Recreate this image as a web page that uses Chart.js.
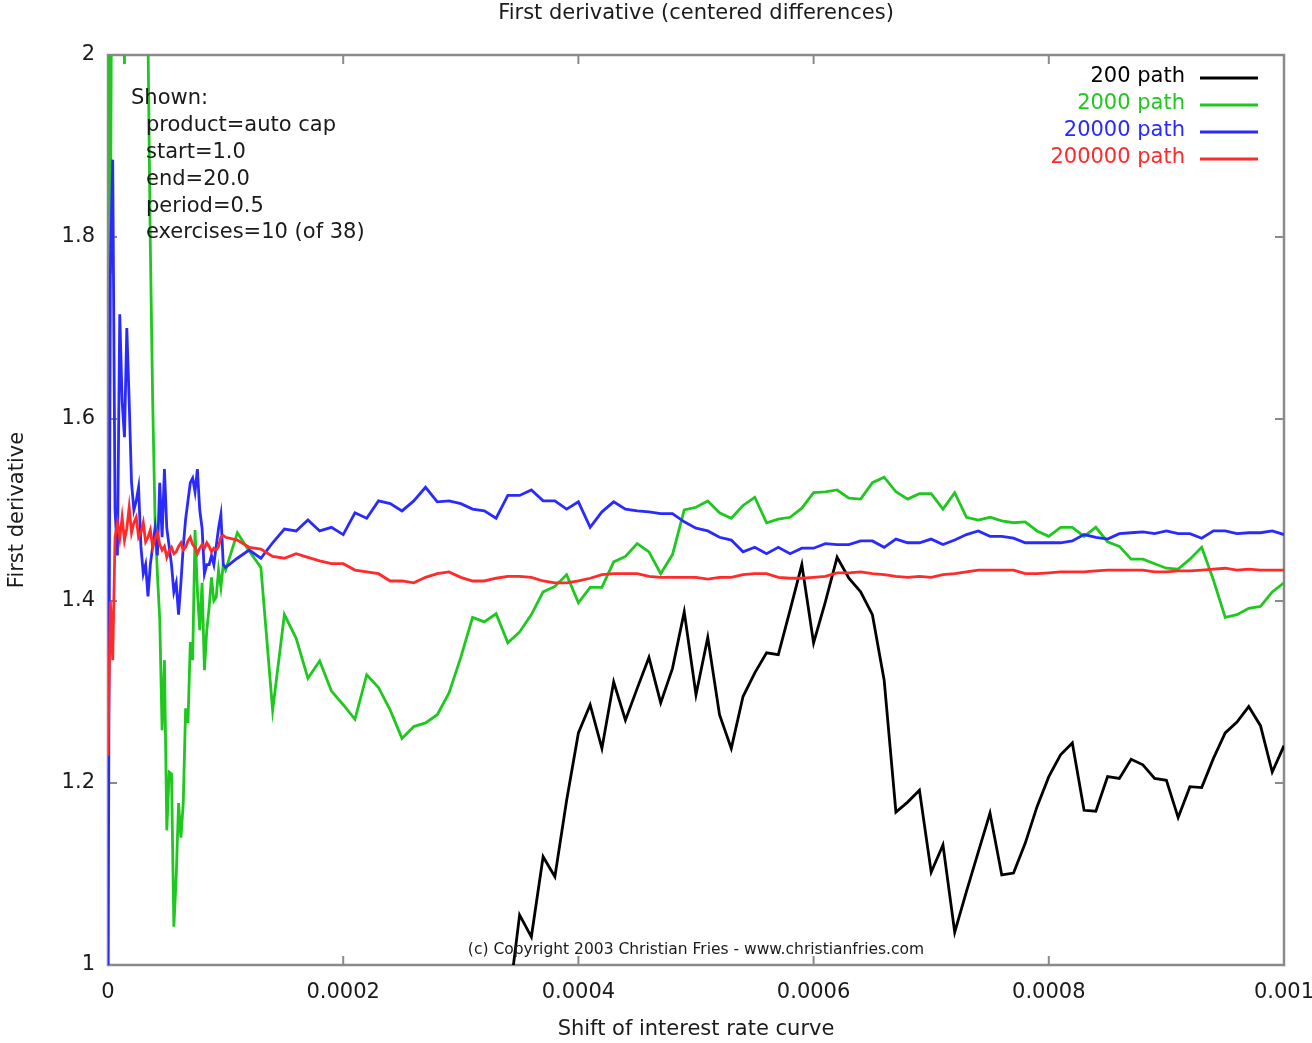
<!DOCTYPE html>
<html>
<head>
<meta charset="utf-8">
<title>First derivative (centered differences)</title>
<script src="https://cdn.jsdelivr.net/npm/chart.js@4.4.1/dist/chart.umd.min.js"></script>
<style>
  body { margin: 0; background: #fff; }
</style>
</head>
<body>
<canvas id="derivChart" width="1312" height="1043"></canvas>
<script>
'use strict';

// series names (legend order)
const seriesNames = ['200 path', '2000 path', '20000 path', '200000 path'];
const seriesColors = ['#000000', '#1fc81f', '#2a2aff', '#ff2a2a'];

const xTickLabels = ['0', '0.0002', '0.0004', '0.0006', '0.0008', '0.001'];
const yTickLabels = ['1', '1.2', '1.4', '1.6', '1.8', '2'];

const infoLines = ['Shown:', 'product=auto cap', 'start=1.0', 'end=20.0', 'period=0.5', 'exercises=10 (of 38)'];
const copyrightText = '(c) Copyright 2003 Christian Fries - www.christianfries.com';

// shift grid: 50 fine steps up to 0.0001, then steps of 0.00001 up to 0.001
const fineShift = [];
for (let j = 0; j < 50; j++) fineShift.push(Number((j * 0.000002).toFixed(7)));
const coarseShift = [];
for (let k = 0; k <= 90; k++) coarseShift.push(Number((0.0001 + k * 0.00001).toFixed(6)));

// 200 path (below the axis before ~0.00034)
const black_fine = [];
const black_coarse = [
  null, null, null, null, null, null, null, null, null, null,
  null, null, null, null, null, null, null, null, null, null,
  null, null, null, null,
  0.95, 1.055, 1.031, 1.119, 1.097, 1.181, 1.255, 1.286, 1.238, 1.311,
  1.269, 1.304, 1.338, 1.288, 1.326, 1.388, 1.297, 1.360, 1.275, 1.238,
  1.295, 1.321, 1.343, 1.341, 1.390, 1.440, 1.354, 1.399, 1.448, 1.425,
  1.410, 1.385, 1.313, 1.168, 1.179, 1.192, 1.102, 1.132, 1.036, 1.081,
  1.124, 1.167, 1.099, 1.101, 1.134, 1.174, 1.207, 1.231, 1.244, 1.170,
  1.169, 1.207, 1.205, 1.226, 1.220, 1.205, 1.203, 1.162, 1.196, 1.195,
  1.227, 1.255, 1.267, 1.284, 1.263, 1.212, 1.241
];

// 2000 path
const green_fine = [
  2.5, 1.76, 2.4, 2.6, 2.3, 2.2, 2.1, 1.99, 2.2, 2.5,
  2.8, 2.6, 2.4, 2.7, 2.5, 2.3, 2.4, 2.02, 1.79, 1.62,
  1.49, 1.43, 1.38, 1.258, 1.335, 1.148, 1.212, 1.21, 1.042, 1.097,
  1.178, 1.14, 1.178, 1.282, 1.266, 1.355, 1.335, 1.478, 1.412, 1.368,
  1.42, 1.324, 1.368, 1.393, 1.426, 1.40, 1.404, 1.434, 1.415, 1.44
];
const green_coarse = [
  1.434, 1.475, 1.455, 1.437, 1.280, 1.385, 1.359, 1.315, 1.334, 1.301,
  1.286, 1.270, 1.319, 1.305, 1.280, 1.249, 1.262, 1.266, 1.275, 1.299,
  1.338, 1.382, 1.377, 1.386, 1.354, 1.366, 1.385, 1.410, 1.416, 1.429,
  1.398, 1.415, 1.415, 1.443, 1.449, 1.463, 1.454, 1.430, 1.451, 1.500,
  1.503, 1.510, 1.497, 1.491, 1.505, 1.514, 1.486, 1.490, 1.492, 1.502,
  1.519, 1.520, 1.522, 1.513, 1.512, 1.530, 1.536, 1.520, 1.512, 1.518,
  1.518, 1.501, 1.519, 1.492, 1.489, 1.492, 1.488, 1.486, 1.487, 1.477,
  1.471, 1.481, 1.481, 1.471, 1.481, 1.465, 1.460, 1.446, 1.446, 1.441,
  1.436, 1.435, 1.446, 1.459, 1.423, 1.382, 1.385, 1.392, 1.394, 1.410,
  1.420
];

// 20000 path
const blue_fine = [
  0.95, 1.76, 1.885, 1.50, 1.45, 1.715, 1.62, 1.58, 1.70, 1.62,
  1.53, 1.50, 1.51, 1.525, 1.46, 1.43, 1.44, 1.405, 1.44, 1.46,
  1.48, 1.45, 1.53, 1.47, 1.545, 1.48, 1.46, 1.44, 1.41, 1.42,
  1.385, 1.42, 1.46, 1.49, 1.51, 1.53, 1.535, 1.52, 1.545, 1.50,
  1.48, 1.43, 1.44, 1.44, 1.45, 1.44, 1.46, 1.48, 1.495, 1.44
];
const blue_coarse = [
  1.437, 1.447, 1.456, 1.447, 1.464, 1.479, 1.477, 1.489, 1.477, 1.481,
  1.473, 1.497, 1.491, 1.510, 1.507, 1.499, 1.510, 1.525, 1.509, 1.510,
  1.507, 1.501, 1.499, 1.491, 1.516, 1.516, 1.522, 1.510, 1.510, 1.501,
  1.509, 1.481, 1.498, 1.509, 1.501, 1.499, 1.498, 1.496, 1.496, 1.487,
  1.480, 1.477, 1.470, 1.467, 1.454, 1.459, 1.452, 1.459, 1.452, 1.458,
  1.458, 1.463, 1.462, 1.462, 1.466, 1.466, 1.459, 1.468, 1.464, 1.464,
  1.468, 1.462, 1.467, 1.473, 1.477, 1.471, 1.471, 1.469, 1.464, 1.464,
  1.464, 1.464, 1.466, 1.473, 1.470, 1.468, 1.474, 1.475, 1.476, 1.474,
  1.477, 1.474, 1.474, 1.469, 1.477, 1.477, 1.474, 1.475, 1.475, 1.477,
  1.473
];

// 200000 path
const red_fine = [
  1.23, 1.40, 1.335, 1.47, 1.486, 1.469, 1.492, 1.467, 1.48, 1.503,
  1.475, 1.486, 1.492, 1.47, 1.475, 1.486, 1.465, 1.47, 1.478, 1.459,
  1.468, 1.475, 1.462, 1.456, 1.46, 1.448, 1.455, 1.459, 1.452, 1.454,
  1.46, 1.464, 1.456, 1.459, 1.466, 1.47, 1.462, 1.459, 1.452, 1.458,
  1.462, 1.458, 1.464, 1.46, 1.454, 1.458, 1.456, 1.46, 1.47, 1.472
];
const red_coarse = [
  1.470, 1.467, 1.459, 1.457, 1.449, 1.447, 1.452, 1.448, 1.444, 1.441,
  1.441, 1.434, 1.432, 1.430, 1.422, 1.422, 1.420, 1.426, 1.430, 1.432,
  1.426, 1.422, 1.422, 1.425, 1.427, 1.427, 1.426, 1.422, 1.420, 1.420,
  1.422, 1.425, 1.429, 1.430, 1.430, 1.430, 1.427, 1.426, 1.426, 1.426,
  1.426, 1.424, 1.426, 1.426, 1.429, 1.430, 1.430, 1.426, 1.425, 1.425,
  1.426, 1.427, 1.431, 1.431, 1.432, 1.430, 1.429, 1.427, 1.426, 1.427,
  1.426, 1.429, 1.430, 1.432, 1.434, 1.434, 1.434, 1.434, 1.430, 1.430,
  1.431, 1.432, 1.432, 1.432, 1.433, 1.434, 1.434, 1.434, 1.434, 1.432,
  1.432, 1.433, 1.433, 1.434, 1.435, 1.436, 1.434, 1.435, 1.434, 1.434,
  1.434
];

function toPoints(fine, coarse) {
  let pts = [];
  for (let i = 0; i < fine.length; i++) pts.push({x: fineShift[i], y: fine[i]});
  for (let i = 0; i < coarse.length; i++) {
    if (coarse[i] !== null) pts.push({x: coarseShift[i], y: coarse[i]});
  }
  return pts;
}

const allFine = [black_fine, green_fine, blue_fine, red_fine];
const allCoarse = [black_coarse, green_coarse, blue_coarse, red_coarse];

let datasets = [];
for (let s = 0; s < seriesNames.length; s++) {
  datasets.push({
    label: seriesNames[s],
    data: toPoints(allFine[s], allCoarse[s]),
    borderColor: seriesColors[s],
    backgroundColor: seriesColors[s],
    borderWidth: 2.8,
    pointRadius: 0,
    tension: 0,
    fill: false,
    order: seriesNames.length - s   // later series drawn on top, like the original
  });
}

const FONT = 'DejaVu Sans';

// frame, inward ticks, legend and text boxes
const decorations = {
  id: 'decorations',
  beforeDatasetsDraw(chart) {
    const ctx = chart.ctx;
    const a = chart.chartArea;
    const xs = chart.scales.x, ys = chart.scales.y;
    ctx.save();
    ctx.strokeStyle = '#8a8a8a';
    ctx.lineWidth = 2.5;
    ctx.strokeRect(a.left, a.top, a.right - a.left, a.bottom - a.top);
    ctx.lineWidth = 2;
    ctx.beginPath();
    xs.ticks.forEach(t => {
      const px = xs.getPixelForValue(t.value);
      ctx.moveTo(px, a.bottom); ctx.lineTo(px, a.bottom - 9);
      ctx.moveTo(px, a.top); ctx.lineTo(px, a.top + 9);
    });
    ys.ticks.forEach(t => {
      const py = ys.getPixelForValue(t.value);
      ctx.moveTo(a.left, py); ctx.lineTo(a.left + 9, py);
      ctx.moveTo(a.right, py); ctx.lineTo(a.right - 9, py);
    });
    ctx.stroke();
    ctx.restore();
  },
  afterDraw(chart) {
    const ctx = chart.ctx;
    const a = chart.chartArea;
    ctx.save();

    // legend: text right aligned, line sample to the right
    ctx.font = '21px "' + FONT + '"';
    ctx.textBaseline = 'middle';
    ctx.textAlign = 'right';
    chart.data.datasets.forEach((ds, i) => {
      const y = a.top + 22 + i * 27;
      ctx.fillStyle = ds.borderColor;
      ctx.fillText(ds.label, a.right - 99, y);
      ctx.strokeStyle = ds.borderColor;
      ctx.lineWidth = 2.8;
      ctx.beginPath();
      ctx.moveTo(a.right - 84, y + 1);
      ctx.lineTo(a.right - 26, y + 1);
      ctx.stroke();
    });

    // info box
    ctx.textAlign = 'left';
    ctx.fillStyle = '#1a1a1a';
    infoLines.forEach((line, i) => {
      const x = i === 0 ? a.left + 23 : a.left + 38;
      ctx.fillText(line, x, a.top + 44 + i * 26.8);
    });

    // copyright
    ctx.font = '15.5px "' + FONT + '"';
    ctx.textAlign = 'center';
    ctx.fillText(copyrightText, (a.left + a.right) / 2, a.bottom - 15);

    // axis titles
    ctx.font = '21px "' + FONT + '"';
    ctx.fillText('Shift of interest rate curve', (a.left + a.right) / 2, 1030);
    ctx.translate(18, (a.top + a.bottom) / 2);
    ctx.rotate(-Math.PI / 2);
    ctx.fillText('First derivative', 0, 0);
    ctx.restore();
  }
};

const chart = new Chart(document.getElementById('derivChart').getContext('2d'), {
  type: 'line',
  data: { datasets: datasets },
  options: {
    responsive: false,
    animation: false,
    devicePixelRatio: 1,
    layout: { padding: { top: 0, right: 0, bottom: 0, left: 0 } },
    plugins: {
      legend: { display: false },
      tooltip: { enabled: false },
      title: {
        display: true,
        fullSize: false,   // centre over the plot area, not the canvas
        text: 'First derivative (centered differences)',
        color: '#1a1a1a',
        font: { family: FONT, size: 21, weight: 'normal', lineHeight: 1.2 },
        padding: { top: 1, bottom: 28.8 }
      }
    },
    scales: {
      x: {
        type: 'linear',
        min: 0,
        max: 0.001,
        grid: { display: false, drawTicks: false },
        border: { display: false },
        afterFit(scale) {
          scale.height = 78;
          // let the last tick label run past the canvas edge, as in the original
          scale.paddingRight = 28;
          scale.paddingLeft = 0;
        },
        ticks: {
          stepSize: 0.0002,
          autoSkip: false,
          maxRotation: 0,
          padding: 15,
          color: '#1a1a1a',
          font: { family: FONT, size: 21 },
          callback: (v, i) => xTickLabels[i]
        }
      },
      y: {
        type: 'linear',
        min: 1,
        max: 2,
        grid: { display: false, drawTicks: false },
        border: { display: false },
        afterFit(scale) { scale.width = 108; },
        ticks: {
          stepSize: 0.2,
          padding: 13,
          color: '#1a1a1a',
          font: { family: FONT, size: 21 },
          callback: (v, i) => yTickLabels[i]
        }
      }
    }
  },
  plugins: [decorations]
});
</script>
</body>
</html>
